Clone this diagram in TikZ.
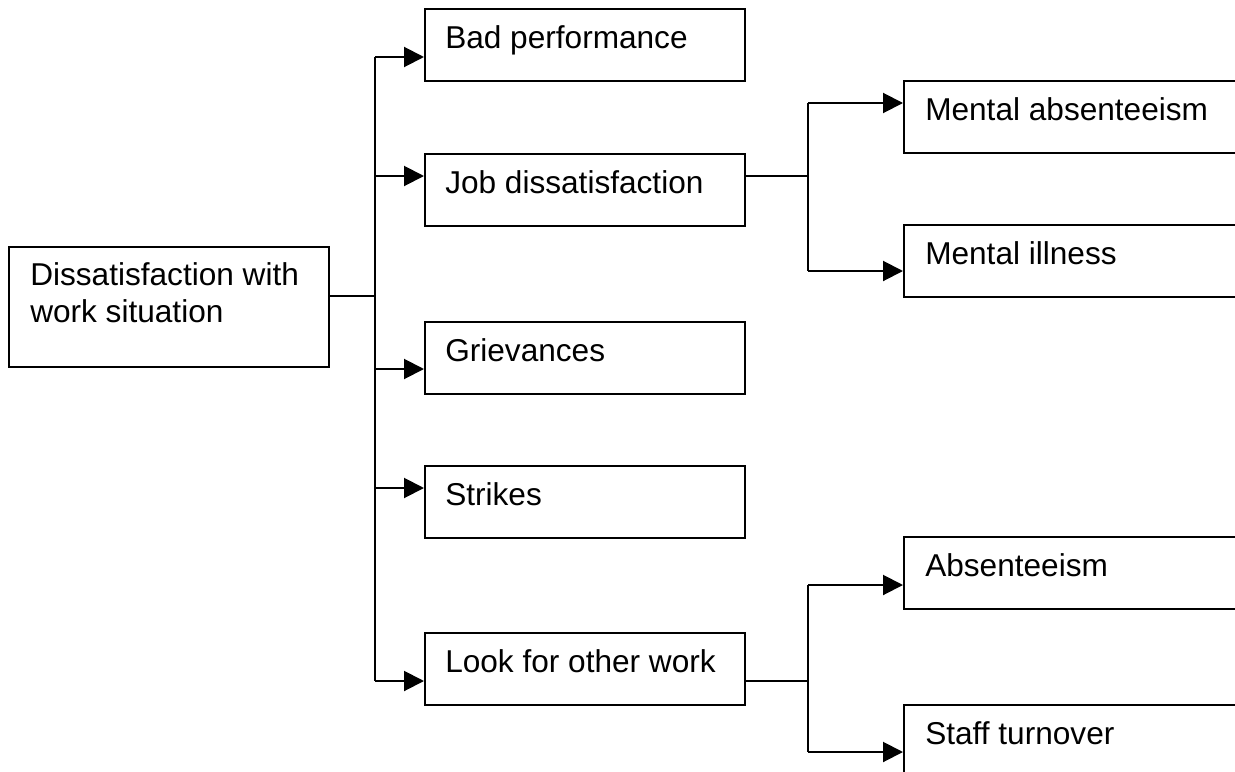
\documentclass[tikz,border=0pt]{standalone}
\usepackage{fontspec}
\setmainfont{Liberation Sans}
\usetikzlibrary{arrows.meta,calc}
\begin{document}
\begin{tikzpicture}[x=0.75pt,y=-0.75pt,
  box/.style={draw,line width=1.5pt,rectangle,inner sep=0pt,anchor=north west,minimum width=240pt,minimum height=54pt},
  openbox/.style={box,minimum width=300pt},
  lbl/.style={anchor=base west,inner sep=0pt,font=\fontsize{23.7}{27.6}\selectfont},
  conn/.style={line width=1.5pt},
  arr/.style={conn,-{Triangle[length=15pt,width=15pt]}}]
\useasboundingbox (0,0) rectangle (1235,771);
\clip (0,0) rectangle (1235,771);
% boxes
\node[box,minimum height=90pt] (main) at (8,246) {};
\node[box] (bp) at (424,8) {};
\node[box] (jd) at (424,153) {};
\node[box] (gr) at (424,321) {};
\node[box] (st) at (424,465) {};
\node[box] (lw) at (424,632) {};
\node[openbox] (ma) at (903,80) {};
\node[openbox] (mi) at (903,224) {};
\node[openbox] (ab) at (903,536) {};
\node[openbox] (sto) at (903,704) {};
% texts
\node[lbl] (maint1) at ($(main.north west)+(22,39)$) {Dissatisfaction with};
\node[lbl] (maint2) at ($(main.north west)+(22,76)$) {work situation};
\node[lbl] (bpt) at ($(bp.north west)+(21,40)$) {Bad performance};
\node[lbl] (jdt) at ($(jd.north west)+(21,40)$) {Job dissatisfaction};
\node[lbl] (grt) at ($(gr.north west)+(21,40)$) {Grievances};
\node[lbl] (stt) at ($(st.north west)+(21,40)$) {Strikes};
\node[lbl] (lwt) at ($(lw.north west)+(21,40)$) {Look for other work};
\node[lbl] (mat) at ($(ma.north west)+(22,40)$) {Mental absenteeism};
\node[lbl] (mit) at ($(mi.north west)+(22,40)$) {Mental illness};
\node[lbl] (abt) at ($(ab.north west)+(22,40)$) {Absenteeism};
\node[lbl] (stot) at ($(sto.north west)+(22,40)$) {Staff turnover};
% trunk
\coordinate (tm) at (375,296);
\coordinate (t1) at (375,57);
\coordinate (t2) at (375,176);
\coordinate (t3) at (375,369);
\coordinate (t4) at (375,488);
\coordinate (t5) at (375,681);
\draw[conn] (main.east |- tm) -- (tm);
\draw[conn] (t1) -- (t5);
\draw[arr] (t1) -- (t1 -| bp.west);
\draw[arr] (t2) -- (t2 -| jd.west);
\draw[arr] (t3) -- (t3 -| gr.west);
\draw[arr] (t4) -- (t4 -| st.west);
\draw[arr] (t5) -- (t5 -| lw.west);
% job branch
\coordinate (j0) at (808,176);
\coordinate (j1) at (808,103);
\coordinate (j2) at (808,271);
\draw[conn] (jd.east |- j0) -- (j0);
\draw[conn] (j1) -- (j2);
\draw[arr] (j1) -- (j1 -| ma.west);
\draw[arr] (j2) -- (j2 -| mi.west);
% look branch
\coordinate (l0) at (808,681);
\coordinate (l1) at (808,585);
\coordinate (l2) at (808,752);
\draw[conn] (lw.east |- l0) -- (l0);
\draw[conn] (l1) -- (l2);
\draw[arr] (l1) -- (l1 -| ab.west);
\draw[arr] (l2) -- (l2 -| sto.west);
\end{tikzpicture}
\end{document}
